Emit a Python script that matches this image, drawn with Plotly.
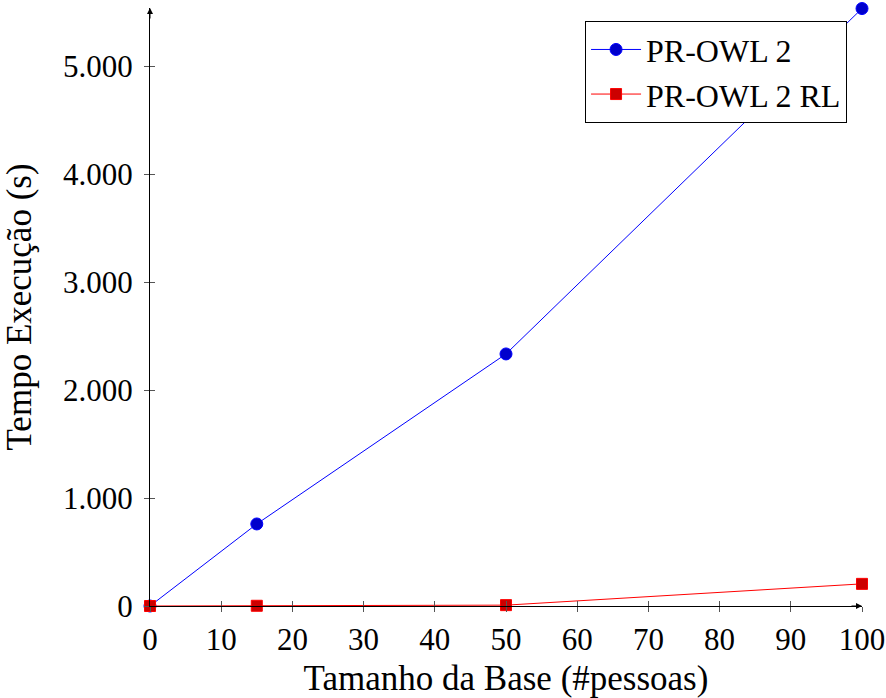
import plotly.graph_objects as go

x_vals = [0, 15, 50, 100]
prowl2 = [0, 760, 2335, 5535]
prowl2_rl = [0, 2, 8, 205]
x_ticks = [0, 10, 20, 30, 40, 50, 60, 70, 80, 90, 100]
y_ticks = [0, 1000, 2000, 3000, 4000, 5000]
y_ticklabels = ["0", "1.000", "2.000", "3.000", "4.000", "5.000"]

FONT = "Liberation Serif"
fig = go.Figure()
fig.add_trace(go.Scatter(
    x=x_vals, y=prowl2, name="PR-OWL 2", mode="lines+markers",
    line=dict(color="#0000ff", width=1),
    marker=dict(symbol="circle", size=12, color="#0000cc", line=dict(color="#0000ff", width=1)),
    cliponaxis=False))
fig.add_trace(go.Scatter(
    x=x_vals, y=prowl2_rl, name="PR-OWL 2 RL", mode="lines+markers",
    line=dict(color="#ff0000", width=1),
    marker=dict(symbol="square", size=11, color="#cc0000", line=dict(color="#ff0000", width=1)),
    cliponaxis=False))
# invisible trace to carry the inner-tick overlay axes
fig.add_trace(go.Scatter(x=[None], y=[None], xaxis="x2", yaxis="y2", showlegend=False, hoverinfo="skip"))

xr = [0, 100]
yr = [0, 5540]
common = dict(showgrid=False, zeroline=False, ticklen=5, tickwidth=1, tickcolor="#555555", automargin=False)
fig.update_layout(
    width=886, height=698,
    margin=dict(l=150, r=24, t=8, b=92),
    paper_bgcolor="white", plot_bgcolor="white",
    font=dict(family=FONT, size=31, color="black"),
    xaxis=dict(range=xr, tickvals=x_ticks, ticks="outside", showline=True, linecolor="black", linewidth=1,
               title=dict(text="Tamanho da Base (#pessoas)", standoff=12, font=dict(size=35)),
               ticklabelstandoff=1, **common),
    yaxis=dict(range=yr, tickvals=y_ticks, ticktext=y_ticklabels, ticks="outside", showline=True,
               linecolor="black", linewidth=1, ticklabelstandoff=5,
               title=dict(text="Tempo Execução (s)", standoff=22, font=dict(size=35)), **common),
    xaxis2=dict(range=xr, overlaying="x", anchor="y2", tickvals=x_ticks, ticks="inside",
                showticklabels=False, showline=False, **common),
    yaxis2=dict(range=yr, overlaying="y", anchor="x2", tickvals=y_ticks, ticks="inside",
                showticklabels=False, showline=False, **common),
    legend=dict(x=0.979, y=0.978, xanchor="right", yanchor="top", bordercolor="black", borderwidth=1,
                bgcolor="white", font=dict(size=32), tracegroupgap=0, itemwidth=50),
    showlegend=True,
)
# axis arrowheads
fig.add_annotation(xref="paper", yref="paper", x=1, y=0, ax=-12, ay=0, text="", showarrow=True,
                   arrowhead=2, arrowsize=1.2, arrowwidth=1, arrowcolor="black")
fig.add_annotation(xref="paper", yref="paper", x=0, y=1, ax=0, ay=12, text="", showarrow=True,
                   arrowhead=2, arrowsize=1.2, arrowwidth=1, arrowcolor="black")
fig.write_html("out.html", config={"displayModeBar": False},
               post_script="document.body.style.margin='0';document.body.style.overflow='hidden';")
